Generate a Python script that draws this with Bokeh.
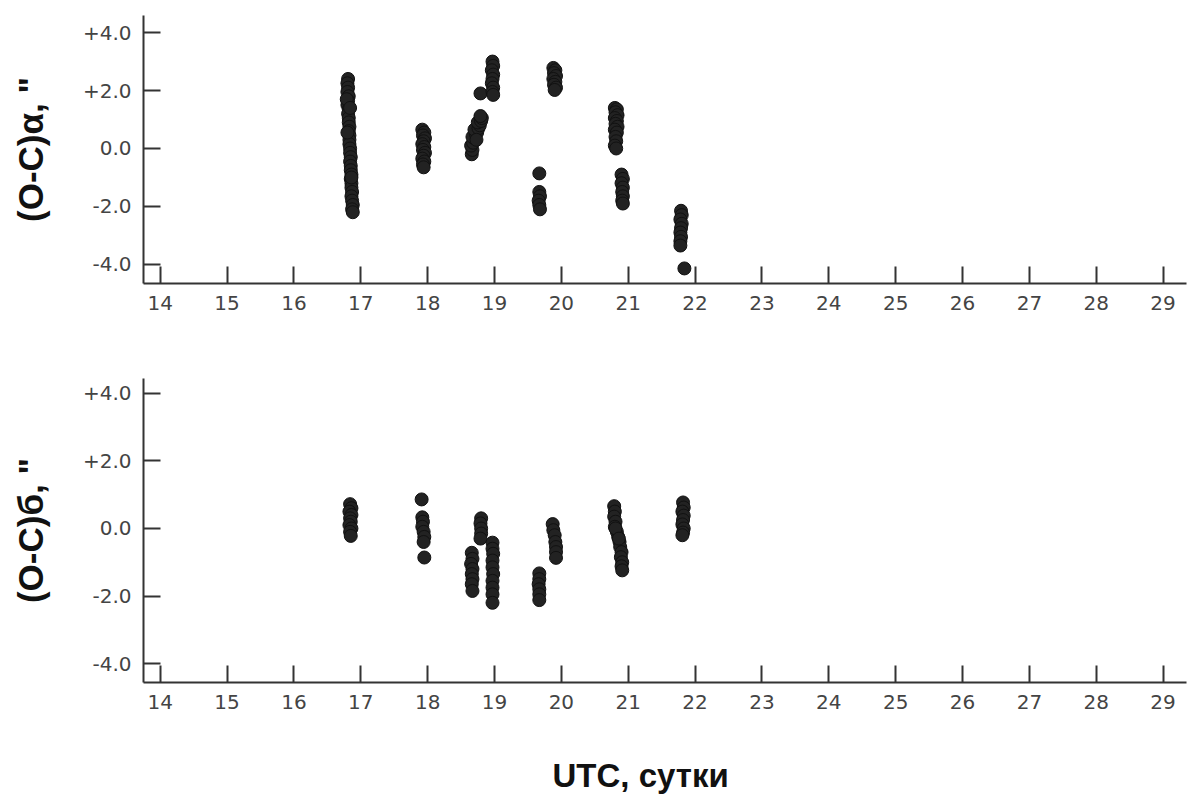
from bokeh.plotting import figure
from bokeh.layouts import column
from bokeh.models import Range1d, FixedTicker, Label
from bokeh.embed import file_html
from bokeh.resources import INLINE

# Observation epochs (UTC day) and O-C residuals in right ascension, arcsec
ra_day = [
    16.81, 16.80, 16.81, 16.80, 16.82, 16.81, 16.80, 16.82, 16.81, 16.82,
    16.82, 16.83, 16.82, 16.83, 16.83, 16.83, 16.84, 16.84, 16.85, 16.84,
    16.85, 16.85, 16.86, 16.85, 16.86, 16.86, 16.87, 16.86, 16.87, 16.88,
    16.87, 16.88, 16.79, 16.84, 16.80, 16.86,
    17.92, 17.95, 17.93, 17.96, 17.94, 17.92, 17.95, 17.93, 17.96, 17.94,
    17.92, 17.95, 17.93, 17.94,
    18.66, 18.67, 18.65, 18.68, 18.70, 18.67, 18.72, 18.74, 18.70, 18.76,
    18.78, 18.75, 18.80, 18.81, 18.79, 18.73,
    18.79,
    18.97, 18.98, 18.96, 18.98, 18.97, 18.96, 18.98, 18.97, 18.98,
    19.88, 19.91, 19.89, 19.92, 19.88, 19.91, 19.89, 19.92, 19.90,
    19.67,
    19.67, 19.68, 19.66, 19.67, 19.68,
    20.80, 20.83, 20.81, 20.84, 20.80, 20.83, 20.81, 20.84, 20.80, 20.83,
    20.81, 20.82, 20.80, 20.82,
    20.90, 20.92, 20.90, 20.92, 20.91, 20.92, 20.91, 20.92,
    21.79, 21.80, 21.78, 21.80, 21.79, 21.78, 21.79, 21.78, 21.78,
    21.84,
]
ra_oc = [
    2.40, 2.25, 2.10, 1.95, 1.80, 1.65, 1.50, 1.35, 1.20, 1.05,
    0.90, 0.75, 0.60, 0.45, 0.30, 0.15, 0.00, -0.15, -0.30, -0.45,
    -0.60, -0.75, -0.90, -1.05, -1.20, -1.35, -1.50, -1.65, -1.80, -1.95,
    -2.10, -2.20, 1.70, 1.40, 0.55, -1.00,
    0.65, 0.55, 0.45, 0.35, 0.25, 0.15, 0.05, -0.05, -0.15, -0.25,
    -0.35, -0.45, -0.55, -0.65,
    -0.20, -0.05, 0.10, 0.20, 0.35, 0.40, 0.50, 0.55, 0.65, 0.70,
    0.80, 0.90, 0.95, 1.05, 1.12, 0.30,
    1.90,
    3.00, 2.85, 2.70, 2.55, 2.40, 2.25, 2.10, 1.95, 1.85,
    2.78, 2.70, 2.60, 2.50, 2.40, 2.30, 2.20, 2.10, 2.02,
    -0.86,
    -1.50, -1.65, -1.80, -1.95, -2.10,
    1.40, 1.35, 1.25, 1.15, 1.05, 0.95, 0.85, 0.75, 0.65, 0.55,
    0.40, 0.25, 0.10, 0.00,
    -0.90, -1.05, -1.20, -1.35, -1.50, -1.65, -1.80, -1.90,
    -2.15, -2.30, -2.45, -2.60, -2.75, -2.90, -3.05, -3.20, -3.35,
    -4.14,
]

# Observation epochs and O-C residuals in declination, arcsec
dec_day = [
    16.84, 16.86, 16.83, 16.86, 16.84, 16.85, 16.83, 16.86, 16.84, 16.85,
    17.91, 17.92, 17.93, 17.92, 17.94, 17.95, 17.94, 17.95,
    18.80, 18.79, 18.80, 18.80, 18.79,
    18.66, 18.67, 18.65, 18.67, 18.66, 18.67, 18.66, 18.67,
    18.97, 18.97, 18.98, 18.97, 18.97, 18.98, 18.97, 18.97, 18.97, 18.97,
    19.87, 19.88, 19.90, 19.91, 19.92, 19.92, 19.92,
    19.67, 19.67, 19.66, 19.67, 19.67, 19.67,
    20.79, 20.80, 20.79, 20.81, 20.80, 20.83, 20.85, 20.87, 20.88, 20.90,
    20.89, 20.91, 20.90, 20.91, 20.81, 20.86,
    21.82, 21.83, 21.81, 21.83, 21.82, 21.81, 21.83, 21.82, 21.81,
]
dec_oc = [
    0.72, 0.60, 0.50, 0.40, 0.30, 0.20, 0.10, 0.00, -0.10, -0.22,
    0.86, 0.33, 0.20, 0.05, -0.10, -0.25, -0.40, -0.86,
    0.30, 0.15, 0.00, -0.15, -0.30,
    -0.72, -0.90, -1.05, -1.20, -1.35, -1.50, -1.65, -1.85,
    -0.42, -0.60, -0.75, -0.95, -1.15, -1.35, -1.55, -1.75, -1.95, -2.20,
    0.13, -0.05, -0.20, -0.40, -0.55, -0.70, -0.87,
    -1.33, -1.50, -1.65, -1.80, -1.95, -2.12,
    0.66, 0.50, 0.35, 0.20, 0.05, -0.10, -0.25, -0.40, -0.55, -0.70,
    -0.85, -1.00, -1.12, -1.24, 0.00, -0.30,
    0.77, 0.62, 0.50, 0.38, 0.25, 0.12, 0.00, -0.12, -0.20,
]

day_ticks = list(range(14, 30))
oc_ticks = [-4, -2, 0, 2, 4]
oc_tick_labels = {-4: "-4.0", -2: "-2.0", 0: "0.0", 2: "+2.0", 4: "+4.0"}

AXIS_COLOR = "#333333"
TICK_FONT = "DejaVu Sans"
LABEL_FONT = "Liberation Sans"


def residual_panel(days, values, ylabel, height, top, bottom, y0, y1):
    p = figure(
        width=1188, height=height, output_backend="svg", toolbar_location=None,
        x_range=Range1d(13.75, 29.35), y_range=Range1d(y0, y1),
        min_border_left=143, min_border_right=2,
        min_border_top=top, min_border_bottom=bottom,
    )
    p.outline_line_color = None
    p.background_fill_color = "white"
    p.border_fill_color = "white"
    p.xgrid.visible = False
    p.ygrid.visible = False

    p.scatter(days, values, marker="circle", size=13,
              fill_color="#222222", line_color="#111111", line_width=1)

    for ax, ticks in ((p.xaxis[0], day_ticks), (p.yaxis[0], oc_ticks)):
        ax.ticker = FixedTicker(ticks=ticks)
        ax.axis_line_color = AXIS_COLOR
        ax.axis_line_width = 2
        ax.major_tick_line_color = AXIS_COLOR
        ax.major_tick_line_width = 2
        ax.major_tick_in = 17
        ax.major_tick_out = 0
        ax.minor_tick_line_color = None
        ax.major_label_text_font = TICK_FONT
        ax.major_label_text_font_size = "20px"
        ax.major_label_text_color = "#444444"

    p.xaxis.major_label_standoff = 12
    p.yaxis.major_label_standoff = 12
    p.yaxis.major_label_overrides = oc_tick_labels

    p.yaxis.axis_label = ylabel
    p.yaxis.axis_label_text_font = LABEL_FONT
    p.yaxis.axis_label_text_font_style = "bold"
    p.yaxis.axis_label_text_font_size = "35px"
    p.yaxis.axis_label_text_color = "#111111"
    p.yaxis.axis_label_standoff = 30
    return p


p_ra = residual_panel(ra_day, ra_oc, '(O-C)α, "', 330, 15, 47, -4.66, 4.59)
p_dec = residual_panel(dec_day, dec_oc, '(O-C)б, "', 394, 48, 42, -4.56, 4.44)

# Strip underneath carrying the shared time-axis caption
caption = figure(
    width=1188, height=70, output_backend="svg", toolbar_location=None,
    x_axis_location=None, y_axis_location=None,
    min_border_left=0, min_border_right=0, min_border_top=0, min_border_bottom=0,
)
caption.outline_line_color = None
caption.xgrid.visible = False
caption.ygrid.visible = False
caption.add_layout(
    Label(text="UTC, сутки", x=409, y=19, x_units="screen", y_units="screen",
          text_align="left", text_baseline="middle",
          text_font=LABEL_FONT, text_font_style="bold",
          text_font_size="33px", text_color="#111111")
)

layout = column(p_ra, p_dec, caption, spacing=0)
open("out.html", "w").write(file_html(layout, INLINE))
